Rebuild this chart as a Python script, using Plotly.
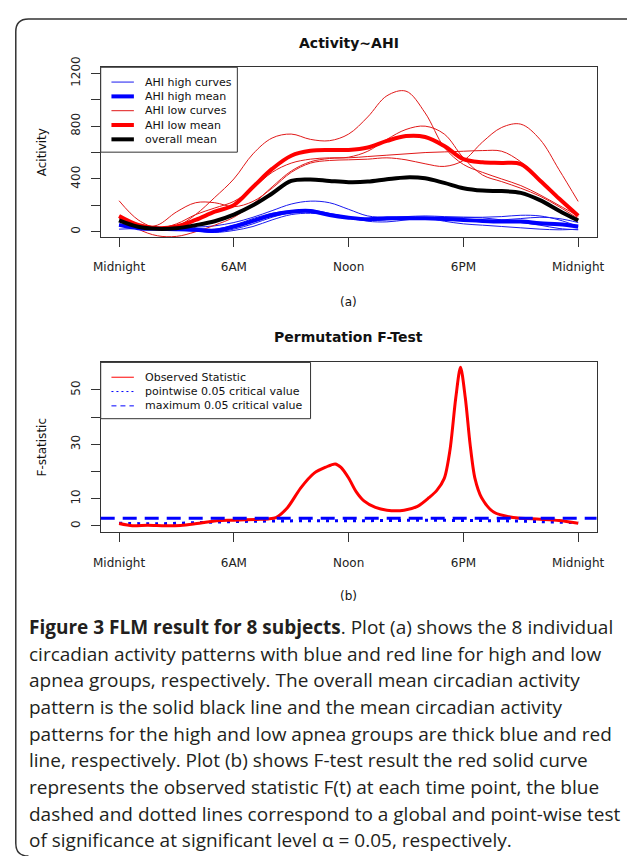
import plotly.graph_objects as go

W, H = 627, 856

# ---------------- data: panel (a) ----------------
hours = list(range(25))

high_curve_1 = [50, 30, 25, 30, 35, 45, 70, 110, 160, 210, 232, 220, 170, 120, 110, 115, 120, 115, 110, 110, 115, 125, 120, 90, 40]
high_curve_2 = [20, 25, 30, 30, 25, 20, 50, 100, 140, 160, 165, 140, 110, 80, 75, 90, 105, 110, 110, 105, 90, 70, 50, 25, 15]
high_curve_3 = [80, 30, 15, 10, 5, 0, 20, 60, 110, 145, 150, 130, 110, 100, 100, 100, 95, 90, 85, 85, 90, 100, 110, 100, 70]
high_curve_4 = [55, 25, 20, 15, 5, -5, 10, 40, 90, 130, 140, 125, 100, 85, 90, 100, 105, 80, 60, 50, 40, 30, 20, 15, 20]

low_curve_1 = [120, 40, 20, 40, 130, 260, 400, 590, 710, 740, 700, 690, 740, 870, 1030, 1065, 900, 640, 510, 450, 400, 350, 280, 200, 120]
low_curve_2 = [235, 90, 30, 60, 130, 180, 230, 330, 450, 520, 550, 560, 560, 570, 580, 590, 600, 605, 610, 615, 610, 530, 400, 250, 120]
low_curve_3 = [110, 20, -30, -35, 0, 50, 110, 210, 340, 460, 530, 555, 565, 610, 700, 775, 800, 740, 560, 430, 380, 330, 270, 190, 100]
low_curve_4 = [100, 40, 50, 150, 220, 220, 190, 230, 330, 450, 520, 540, 545, 550, 560, 545, 515, 495, 540, 680, 790, 815, 700, 470, 230]

high_mean = [52, 27, 22, 20, 15, 7, 40, 82, 127, 152, 157, 127, 107, 95, 102, 102, 102, 97, 90, 82, 77, 77, 65, 57, 40]
low_mean = [120, 52, 27, 40, 90, 152, 202, 339, 476, 576, 613, 620, 620, 638, 688, 725, 718, 650, 550, 526, 521, 513, 389, 252, 122]
overall_mean = [87, 38, 22, 27, 50, 80, 130, 200, 290, 385, 396, 385, 376, 380, 398, 412, 405, 370, 330, 312, 308, 295, 240, 160, 85]

high_curves = [high_curve_1, high_curve_2, high_curve_3, high_curve_4]
low_curves = [low_curve_1, low_curve_2, low_curve_3, low_curve_4]

# ---------------- data: panel (b) ----------------
f_hours = [0, 0.7, 1.5, 2.4, 3.2, 3.9, 5.1, 6.0, 7.2, 7.8, 8.2, 8.8, 9.5, 10.2, 10.8, 11.3, 11.6, 12.0, 12.4,
           12.8, 13.4, 14.0, 14.9, 15.6, 16.2, 16.6, 17.0, 17.3, 17.6, 17.85, 18.1, 18.35, 18.6, 18.95,
           19.6, 20.6, 22.0, 23.0, 24.0]
f_values = [0.9, 0.1, 0.3, 0.1, 0.2, 0.7, 1.9, 2.1, 2.4, 2.6, 3.1, 6.7, 14.0, 19.4, 21.6, 22.8, 21.5, 17.6, 12.5,
            9.2, 6.8, 5.8, 5.8, 7.2, 10.4, 13.0, 17.5, 28.0, 47.0, 58.3, 47.0, 30.0, 17.6, 10.4,
            5.0, 3.1, 2.5, 2.0, 1.0]

pw_hours = [0, 2, 4, 6, 8, 10, 12, 14, 16, 18, 20, 22, 24]
pw_values = [1.0, 0.8, 1.2, 1.6, 1.8, 1.9, 1.9, 2.0, 2.1, 2.0, 1.9, 1.6, 1.2]
max_crit = 2.8

time_ticks = [0, 6, 12, 18, 24]
time_labels = ["Midnight", "6AM", "Noon", "6PM", "Midnight"]

act_ticks = [0, 200, 400, 600, 800, 1000, 1200]
act_labels = ["0", "", "400", "", "800", "", "1200"]
f_ticks = [0, 10, 20, 30, 40, 50]
f_labels = ["0", "10", "", "30", "", "50"]

legend_a_labels = ["AHI high curves", "AHI high mean", "AHI low curves", "AHI low mean", "overall mean"]
legend_b_labels = ["Observed Statistic", "pointwise 0.05 critical value", "maximum 0.05 critical value"]

caption_lines = [
    "<b>Figure 3 FLM result for 8 subjects</b>. Plot (a) shows the 8 individual",
    "circadian activity patterns with blue and red line for high and low",
    "apnea groups, respectively. The overall mean circadian activity",
    "pattern is the solid black line and the mean circadian activity",
    "patterns for the high and low apnea groups are thick blue and red",
    "line, respectively. Plot (b) shows F-test result the red solid curve",
    "represents the observed statistic F(t) at each time point, the blue",
    "dashed and dotted lines correspond to a global and point-wise test",
    "of significance at significant level α = 0.05, respectively.",
]

BLUE = "#0000FF"
RED = "#FF0000"
THIN_BLUE = "#1A1AF0"
THIN_RED = "#E01818"
FONT = "DejaVu Sans"

fig = go.Figure()

# thin individual curves
for c in high_curves:
    fig.add_trace(go.Scatter(x=hours, y=c, mode="lines", xaxis="x", yaxis="y", name=legend_a_labels[0],
                             line=dict(color=THIN_BLUE, width=1, shape="spline", smoothing=1)))
for c in low_curves:
    fig.add_trace(go.Scatter(x=hours, y=c, mode="lines", xaxis="x", yaxis="y", name=legend_a_labels[2],
                             line=dict(color=THIN_RED, width=1, shape="spline", smoothing=1)))
fig.add_trace(go.Scatter(x=hours, y=high_mean, mode="lines", xaxis="x", yaxis="y", name=legend_a_labels[1],
                         line=dict(color=BLUE, width=4, shape="spline", smoothing=1)))
fig.add_trace(go.Scatter(x=hours, y=low_mean, mode="lines", xaxis="x", yaxis="y", name=legend_a_labels[3],
                         line=dict(color=RED, width=4, shape="spline", smoothing=1)))
fig.add_trace(go.Scatter(x=hours, y=overall_mean, mode="lines", xaxis="x", yaxis="y", name=legend_a_labels[4],
                         line=dict(color="black", width=4, shape="spline", smoothing=1)))

# panel (b)
fig.add_trace(go.Scatter(x=pw_hours, y=pw_values, mode="lines", xaxis="x2", yaxis="y2", name=legend_b_labels[1],
                         line=dict(color=BLUE, width=3, dash="3px,6px", shape="spline")))
fig.add_trace(go.Scatter(x=f_hours, y=f_values, mode="lines", xaxis="x2", yaxis="y2", name=legend_b_labels[0],
                         line=dict(color=RED, width=3, shape="spline", smoothing=0.8)))

shapes = []
# maximum critical value: horizontal line across the whole panel
shapes.append(dict(type="line", xref="x2 domain", yref="y2", x0=0, x1=1, y0=max_crit, y1=max_crit,
                   line=dict(color=BLUE, width=3, dash="14px,8px"), layer="above"))


def px_x(v):
    return v / W


def px_y(v):
    return 1 - v / H


xdom = [px_x(96), px_x(604)]
axis_common = dict(showline=True, mirror=True, linecolor="#333", linewidth=1, showgrid=False,
                   zeroline=False, ticks="outside", ticklen=9, tickcolor="#333",
                   tickfont=dict(family=FONT, size=12, color="#222"))

fig.update_layout(
    width=W, height=H, margin=dict(l=0, r=0, t=0, b=0),
    paper_bgcolor="white", plot_bgcolor="white", showlegend=False,
    xaxis=dict(domain=xdom, range=[-0.96, 24.96], anchor="y", tickvals=time_ticks, ticktext=time_labels,
               ticklabelstandoff=10, **axis_common),
    yaxis=dict(domain=[px_y(229), px_y(57)], range=[-40, 1246], anchor="x", tickvals=act_ticks,
               ticktext=act_labels, tickangle=-90, ticklabelstandoff=6, **axis_common),
    xaxis2=dict(domain=xdom, range=[-0.96, 24.96], anchor="y2", tickvals=time_ticks, ticktext=time_labels,
                ticklabelstandoff=10, **axis_common),
    yaxis2=dict(domain=[px_y(528), px_y(356)], range=[-2.3, 60.1], anchor="x2", tickvals=f_ticks,
                ticktext=f_labels, tickangle=-90, ticklabelstandoff=6, **axis_common),
)

ann = []


def add_text(text, x, y, size=12, bold=False, angle=0, xanchor="center", family=FONT, color="#111"):
    ann.append(dict(text=f"<b>{text}</b>" if bold else text, x=px_x(x), y=px_y(y), xref="paper", yref="paper",
                    showarrow=False, xanchor=xanchor, yanchor="middle", textangle=angle,
                    font=dict(family=family, size=size, color=color)))


add_text("Activity~AHI", 350, 32, size=14, bold=True)
add_text("Permutation F-Test", 350, 330, size=14, bold=True)
add_text("Acitivity", 36, 143, size=12, angle=-90)
add_text("F-statistic", 36, 442, size=12, angle=-90)
add_text("(a)", 350, 295, size=12)
add_text("(b)", 350, 593, size=12)

# ---- legends (R-style boxed legends) ----
def draw_legend(top, bottom, right, labels, styles, row_y):
    shapes.append(dict(type="rect", xref="paper", yref="paper", x0=px_x(96), x1=px_x(right),
                       y0=px_y(bottom), y1=px_y(top), line=dict(color="#333", width=1),
                       fillcolor="white", layer="above"))
    for lab, st, yy in zip(labels, styles, row_y):
        shapes.append(dict(type="line", xref="paper", yref="paper", x0=px_x(107), x1=px_x(130),
                           y0=px_y(yy), y1=px_y(yy), line=st, layer="above"))
        add_text(lab, 139, yy, size=11, xanchor="left")


draw_legend(57, 143, 236, legend_a_labels,
            [dict(color=THIN_BLUE, width=1), dict(color=BLUE, width=4), dict(color=THIN_RED, width=1),
             dict(color=RED, width=4), dict(color="black", width=4)],
            [72, 86.5, 101, 115.5, 130])
draw_legend(356, 413, 311, legend_b_labels,
            [dict(color=RED, width=1), dict(color=BLUE, width=1, dash="2px,3px"),
             dict(color=BLUE, width=1, dash="5px,4px")],
            [371, 385.5, 400])

for i, line in enumerate(caption_lines):
    add_text(line, 21, 624 + 27 * i, size=19, xanchor="left", family="Open Sans", color="#231f20")

# rounded frame
shapes.append(dict(type="path", xref="paper", yref="paper",
                   path=f"M {px_x(640)} {px_y(8)} L {px_x(22)} {px_y(8)} Q {px_x(9)} {px_y(8)} {px_x(9)} {px_y(21)} "
                        f"L {px_x(9)} {px_y(843)} Q {px_x(9)} {px_y(856)} {px_x(22)} {px_y(856)}",
                   line=dict(color="#333", width=1.5)))

fig.update_layout(annotations=ann, shapes=shapes)

fig.write_html("out.html", config={"displayModeBar": False},
               post_script="document.body.style.margin='0';document.body.style.overflow='hidden';")
